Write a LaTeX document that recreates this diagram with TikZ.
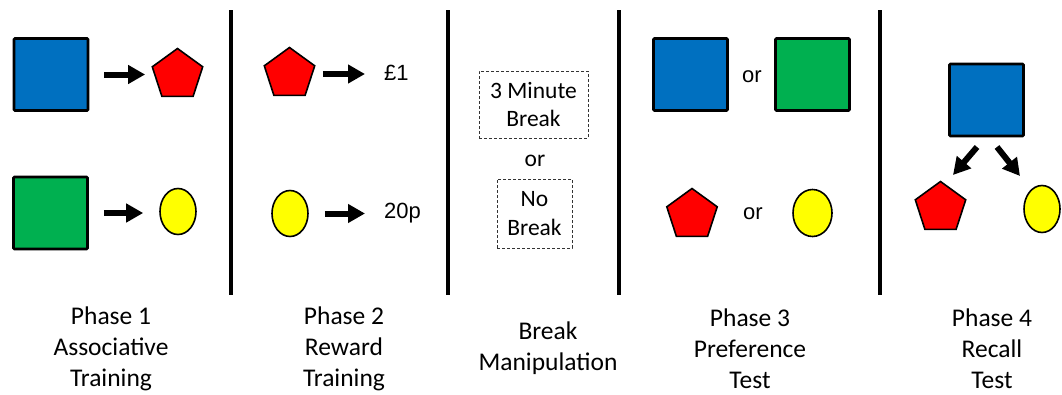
\documentclass[tikz,border=0pt]{standalone}
\usepackage{fontspec}
\setmainfont{Carlito}
\newfontfamily\arialfont{Liberation Sans}
\usetikzlibrary{arrows.meta,shapes.geometric}

\definecolor{sqblue}{HTML}{0070C0}
\definecolor{sqgreen}{HTML}{00B050}
\definecolor{pentred}{HTML}{FF0000}
\definecolor{ovalyellow}{HTML}{FFFF00}

\tikzset{
  sq/.style={draw=black, line width=2.6pt, rounded corners=1pt, minimum width=74pt, minimum height=72pt, inner sep=0pt},
  bluesq/.style={sq, fill=sqblue},
  greensq/.style={sq, fill=sqgreen},
  pent/.style={regular polygon, regular polygon sides=5, draw=black, line width=1.6pt, fill=pentred, minimum size=53pt, inner sep=0pt},
  oval/.style={ellipse, draw=black, line width=1.6pt, fill=ovalyellow, minimum width=36pt, minimum height=46pt, inner sep=0pt},
  bigarrow/.style={line width=6pt, -{Triangle[length=17pt,width=18pt]}},
  divider/.style={line width=4pt, black},
  breakfont/.style={font=\fontsize{23.5}{28.5}\selectfont},
  breakbox/.style={draw=black!80, line width=0.9pt, dash pattern=on 3pt off 2pt, align=center, inner sep=0pt, breakfont},
  valtext/.style={font=\arialfont\fontsize{22}{26}\selectfont, inner sep=0pt},
  phaselabel/.style={align=center, font=\fontsize{25.5}{31}\selectfont, inner sep=0pt}
}

\begin{document}
\begin{tikzpicture}[x=1pt, y=-1pt]
  \fill[white] (0,0) rectangle (1062,394);
  \useasboundingbox (0,0) rectangle (1062,394);

  % phase dividers
  \draw[divider] (231,10) -- (231,295);
  \draw[divider] (448,10) -- (448,295);
  \draw[divider] (619,10) -- (619,295);
  \draw[divider] (880,10) -- (880,295);

  % Phase 1: associative training
  \node[bluesq]  (b1) at (51,74.5) {};
  \node[pent]    (p1) at (177.5,75) {};
  \node[greensq] (g1) at (50.5,213) {};
  \node[oval]    (o1) at (178,211.5) {};
  \draw[bigarrow, shorten <=15pt, shorten >=9pt] (b1) -- (b1 -| p1.west);
  \draw[bigarrow, shorten <=15pt, shorten >=16pt] (g1) -- (g1 -| o1.west);

  % Phase 2: reward training
  \node[pent] (p2) at (289.5,74) {};
  \node[oval] (o2) at (290,213.5) {};
  \node[valtext, anchor=west] (pound) at (384,73) {£1};
  \node[valtext, anchor=west] (pence) at (384,213) {20p\vphantom{£}};
  \draw[bigarrow, shorten <=10pt, shorten >=19pt] (p2) -- (p2 -| pound.west);
  \draw[bigarrow, shorten <=16pt, shorten >=19pt] (o2) -- (o2 -| pence.west);

  % Break manipulation
  \node[breakbox, minimum width=109pt, minimum height=67pt] (brk) at (533.5,104.5) {3 Minute\\Break};
  \node[breakfont, inner sep=0pt] (bor) at (535,161) {or};
  \node[breakbox, minimum width=75pt, minimum height=69pt] (nobrk) at (534.5,213.5) {No\\Break};

  % Phase 3: preference test
  \node[bluesq]  (b3) at (690.5,74.5) {};
  \node[greensq] (g3) at (812.5,74.5) {};
  \node[valtext] (or1) at (752,77) {or};
  \node[pent]    (p3) at (692,215) {};
  \node[valtext] (or2) at (753,214) {or};
  \node[oval, minimum width=39pt, minimum height=47pt] (o3) at (812.5,213) {};

  % Phase 4: recall test
  \node[bluesq] (b4) at (986.5,100) {};
  \node[pent]   (p4) at (940.5,208) {};
  \node[oval, minimum height=47pt] (o4) at (1042,209) {};
  \coordinate (l4s) at (977,147);
  \coordinate (l4e) at (953,175);
  \coordinate (r4s) at (997,147);
  \coordinate (r4e) at (1020,176);
  \draw[bigarrow] (l4s) -- (l4e);
  \draw[bigarrow] (r4s) -- (r4e);

  % phase captions
  \node[phaselabel] (lab1) at (111,349) {Phase 1\\Associative\\Training};
  \node[phaselabel] (lab2) at (344,349) {Phase 2\\Reward\\Training};
  \node[phaselabel] (lab0) at (548,348) {Break\\Manipulation};
  \node[phaselabel] (lab3) at (750,349) {Phase 3\\Preference\\Test};
  \node[phaselabel] (lab4) at (992,349) {Phase 4\\Recall\\Test};
\end{tikzpicture}
\end{document}
